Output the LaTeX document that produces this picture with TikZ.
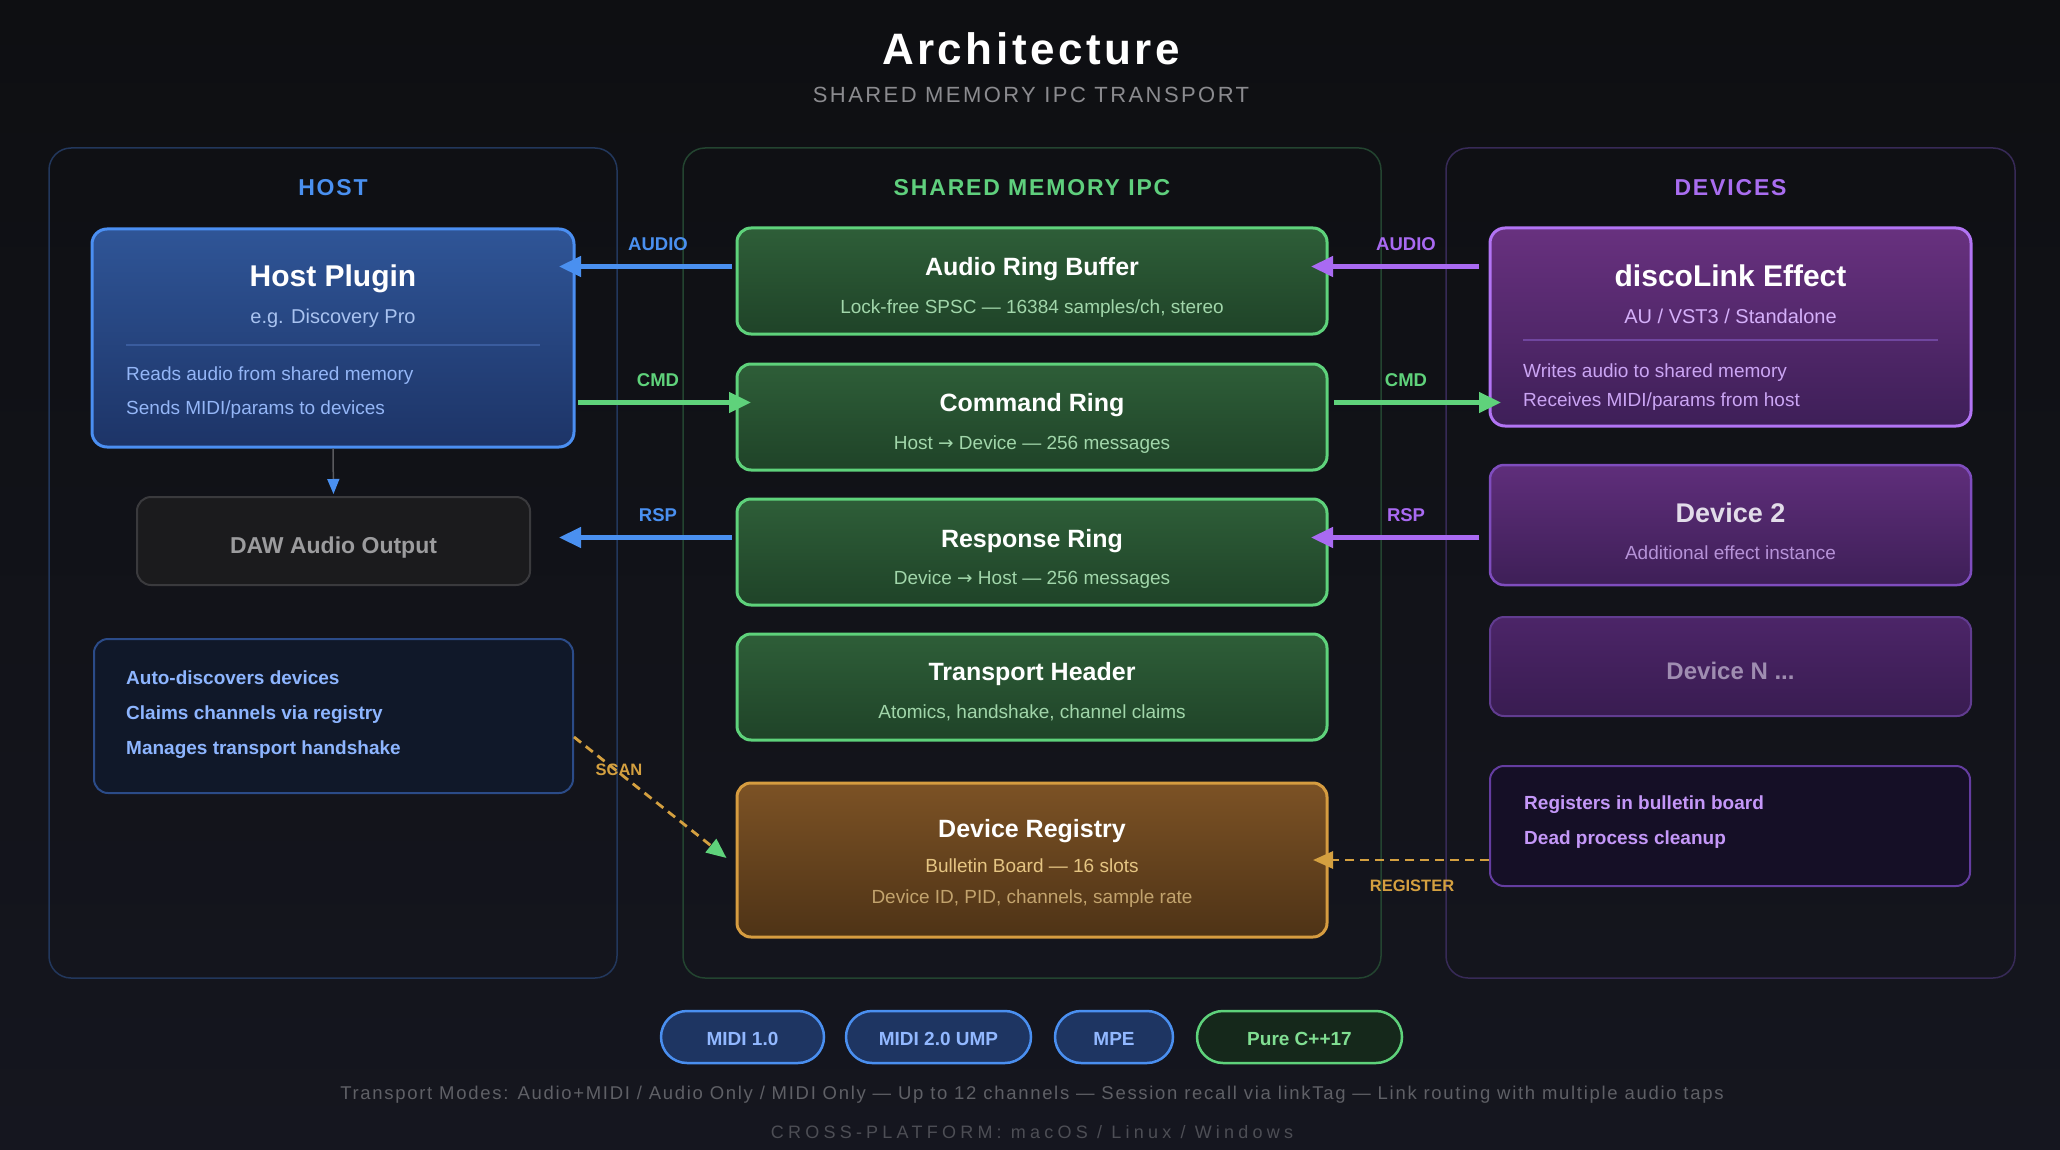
\documentclass[tikz,border=0pt]{standalone}
\usepackage{fontspec}
\setmainfont{Liberation Sans}
\newfontfamily\arrowfont{DejaVu Sans}
\usetikzlibrary{arrows.meta}
\newcommand\fsz[1]{\fontsize{#1pt}{#1pt}\selectfont}
\newcommand\trk[1]{\addfontfeatures{LetterSpace=#1}}
\newcommand\rarr{{\arrowfont\fontsize{18.5pt}{18.5pt}\selectfont →}}
\definecolor{bgtop}{HTML}{0E0F12}
\definecolor{bgbot}{HTML}{15161F}
\definecolor{hpanel}{HTML}{22375C}
\definecolor{spanel}{HTML}{234430}
\definecolor{dpanel}{HTML}{372A57}
\definecolor{hostc}{HTML}{4A90F0}
\definecolor{sharedc}{HTML}{5FCF7D}
\definecolor{devc}{HTML}{A96DF0}
\definecolor{hosttop}{HTML}{2F5597}
\definecolor{hostbot}{HTML}{1D3467}
\definecolor{hostbord}{HTML}{4B8FF2}
\definecolor{hostsub}{HTML}{A9C3F0}
\definecolor{hostsep}{HTML}{3A5C9E}
\definecolor{hostline}{HTML}{94B6F7}
\definecolor{dawfill}{HTML}{1B1B1D}
\definecolor{dawbord}{HTML}{3A3A3D}
\definecolor{dawtext}{HTML}{9C9C9E}
\definecolor{hinfofill}{HTML}{101829}
\definecolor{hinfobord}{HTML}{2B4B88}
\definecolor{hinfotext}{HTML}{8DB5FF}
\definecolor{ringtop}{HTML}{2E5E38}
\definecolor{ringbot}{HTML}{1F4328}
\definecolor{ringbord}{HTML}{5ED27B}
\definecolor{ringsub}{HTML}{A1D6AA}
\definecolor{regtop}{HTML}{7C5225}
\definecolor{regbot}{HTML}{4E3316}
\definecolor{regbord}{HTML}{D69C40}
\definecolor{regsubA}{HTML}{E5C583}
\definecolor{regsubB}{HTML}{C2A36D}
\definecolor{discotop}{HTML}{68317F}
\definecolor{discobot}{HTML}{3E1F58}
\definecolor{discobord}{HTML}{B274F4}
\definecolor{discosub}{HTML}{D5B0FA}
\definecolor{discosep}{HTML}{70469F}
\definecolor{discoline}{HTML}{CBA5F4}
\definecolor{devtwotop}{HTML}{5F2E7B}
\definecolor{devtwobot}{HTML}{3E1F57}
\definecolor{devtwobord}{HTML}{7F4DBE}
\definecolor{devtwotitle}{HTML}{E2DCE9}
\definecolor{devtwosub}{HTML}{B692D8}
\definecolor{devNtop}{HTML}{4C2568}
\definecolor{devNbot}{HTML}{391C51}
\definecolor{devNbord}{HTML}{613C90}
\definecolor{devNtext}{HTML}{9F8DB1}
\definecolor{regsfill}{HTML}{150F26}
\definecolor{regsbord}{HTML}{643DA0}
\definecolor{regstext}{HTML}{C497F8}
\definecolor{ablue}{HTML}{4A90F0}
\definecolor{agreen}{HTML}{5FD27B}
\definecolor{apurple}{HTML}{A96AF2}
\definecolor{aorange}{HTML}{D4A040}
\definecolor{agrey}{HTML}{5A5A5E}
\definecolor{pblfill}{HTML}{1E3562}
\definecolor{pblbord}{HTML}{4A8FF0}
\definecolor{pbltext}{HTML}{92B8FF}
\definecolor{pgrfill}{HTML}{15281B}
\definecolor{pgrbord}{HTML}{5ED27B}
\definecolor{pgrtext}{HTML}{80DE92}
\definecolor{footA}{HTML}{5F6066}
\definecolor{footB}{HTML}{4D4E55}
\definecolor{subt}{HTML}{8B8B8F}
\begin{document}
\begin{tikzpicture}[x=1pt,y=-1pt,
  panel/.style={draw=#1, line width=1.5pt, rounded corners=22pt, inner sep=0},
  box/.style={rounded corners=14pt, inner sep=0},
  tx/.style={anchor=base, inner sep=0},
  txw/.style={anchor=base west, inner sep=0},
  lbl/.style={tx, font=\fsz{23}\bfseries\trk{8}},
  albl/.style={tx, font=\fsz{18.5}\bfseries},
  olbl/.style={tx, font=\fsz{16.5}\bfseries, text=aorange},
  rtitle/.style={tx, font=\fsz{25}\bfseries, text=white},
  rsub/.style={tx, font=\fsz{19}, text=ringsub},
  ring/.style={box, draw=ringbord, line width=3pt, top color=ringtop, bottom color=ringbot, minimum width=590pt, minimum height=106pt},
  fatarrow/.style={line width=4.5pt, -{Triangle[length=22pt,width=20pt]}},
  barrow/.style={fatarrow, draw=ablue, fill=ablue},
  garrow/.style={fatarrow, draw=agreen, fill=agreen},
  parrow/.style={fatarrow, draw=apurple, fill=apurple},
  pill/.style={draw=pblbord, fill=pblfill, line width=2.5pt, rounded corners=26pt, minimum height=52pt, inner sep=0, text height=17.7pt, text depth=0pt, text=pbltext, font=\fsz{19}\bfseries}
]
\useasboundingbox (0,0) rectangle (2060,1150);
\shade[top color=bgtop, bottom color=bgbot] (0,0) rectangle (2060,1150);

% titles
\node[tx, text=white, font=\fsz{44}\bfseries\trk{8}] (title) at (1031,65) {Architecture};
\node[tx, text=subt, font=\fsz{22}\trk{11}] (subtitle) at (1031,103) {SHARED MEMORY IPC TRANSPORT};

% panels
\node[panel=hpanel, minimum width=568pt, minimum height=830pt] (hostpanel) at (333,563) {};
\node[panel=spanel, minimum width=698pt, minimum height=830pt] (sharedpanel) at (1032,563) {};
\node[panel=dpanel, minimum width=569pt, minimum height=830pt] (devpanel) at (1730.5,563) {};
\node[lbl, text=hostc] (hostlbl) at (333,196) {HOST};
\node[lbl, text=sharedc] (sharedlbl) at (1032,196) {SHARED MEMORY IPC};
\node[lbl, text=devc] (devlbl) at (1730.5,196) {DEVICES};

% host side
\node[box, rounded corners=15pt, draw=hostbord, line width=3pt, top color=hosttop, bottom color=hostbot, minimum width=482pt, minimum height=218pt] (host) at (333,338) {};
\node[tx, text=white, font=\fsz{30}\bfseries] (hostt) at (333,287) {Host Plugin};
\node[tx, text=hostsub, font=\fsz{20}] (hosts) at (333,323) {e.g. Discovery Pro};
\draw[hostsep, line width=1.5pt] (126,345) -- (540,345);
\node[txw, text=hostline, font=\fsz{19}] (hostla) at (126,380) {Reads audio from shared memory};
\node[txw, text=hostline, font=\fsz{19}] (hostlb) at (126,414) {Sends MIDI/params to devices};

\node[box, draw=dawbord, line width=2pt, fill=dawfill, minimum width=393pt, minimum height=88pt] (daw) at (333.5,541) {};
\node[tx, text=dawtext, font=\fsz{23}\bfseries] (dawt) at (333.5,553) {DAW Audio Output};

\node[box, draw=hinfobord, line width=2pt, fill=hinfofill, minimum width=479pt, minimum height=154pt] (hinfo) at (333.5,716) {};
\node[txw, text=hinfotext, font=\fsz{19}\bfseries] (hia) at (126,684) {Auto-discovers devices};
\node[txw, text=hinfotext, font=\fsz{19}\bfseries] (hib) at (126,719) {Claims channels via registry};
\node[txw, text=hinfotext, font=\fsz{19}\bfseries] (hic) at (126,754) {Manages transport handshake};

% shared memory
\node[ring] (audio) at (1032,281) {};
\node[rtitle] (audiot) at (1032,276) {Audio Ring Buffer};
\node[rsub] (audios) at (1032,313) {Lock-free SPSC — 16384 samples/ch, stereo};
\node[ring] (cmd) at (1032,417) {};
\node[rtitle] (cmdt) at (1032,411) {Command Ring};
\node[rsub] (cmds) at (1032,449) {Host \rarr{} Device — 256 messages};
\node[ring] (rsp) at (1032,552) {};
\node[rtitle] (rspt) at (1032,547) {Response Ring};
\node[rsub] (rsps) at (1032,584) {Device \rarr{} Host — 256 messages};
\node[ring] (trans) at (1032,687) {};
\node[rtitle] (transt) at (1032,680) {Transport Header};
\node[rsub] (transs) at (1032,718) {Atomics, handshake, channel claims};
\node[box, draw=regbord, line width=3pt, top color=regtop, bottom color=regbot, minimum width=590pt, minimum height=154pt] (registry) at (1032,860) {};
\node[rtitle] (regt) at (1032,837) {Device Registry};
\node[tx, text=regsubA, font=\fsz{19}] (regsa) at (1032,872) {Bulletin Board — 16 slots};
\node[tx, text=regsubB, font=\fsz{19}] (regsb) at (1032,903) {Device ID, PID, channels, sample rate};

% devices
\node[box, rounded corners=15pt, draw=discobord, line width=3pt, top color=discotop, bottom color=discobot, minimum width=481pt, minimum height=198pt] (disco) at (1730.5,327) {};
\node[tx, text=white, font=\fsz{30}\bfseries] (discot) at (1730.5,287) {discoLink Effect};
\node[tx, text=discosub, font=\fsz{20}] (discos) at (1730.5,323) {AU / VST3 / Standalone};
\draw[discosep, line width=1.5pt] (1523,340) -- (1938,340);
\node[txw, text=discoline, font=\fsz{19}] (discola) at (1523,377) {Writes audio to shared memory};
\node[txw, text=discoline, font=\fsz{19}] (discolb) at (1523,406) {Receives MIDI/params from host};

\node[box, draw=devtwobord, line width=2.5pt, top color=devtwotop, bottom color=devtwobot, minimum width=481pt, minimum height=120pt] (dev2) at (1730.5,525) {};
\node[tx, text=devtwotitle, font=\fsz{27}\bfseries] (dev2t) at (1730.5,522) {Device 2};
\node[tx, text=devtwosub, font=\fsz{19}] (dev2s) at (1730.5,559) {Additional effect instance};

\node[box, draw=devNbord, line width=2pt, top color=devNtop, bottom color=devNbot, minimum width=481pt, minimum height=99pt] (devN) at (1730.5,666.5) {};
\node[tx, text=devNtext, font=\fsz{24}\bfseries] (devNt) at (1730.5,679) {Device N ...};

\node[box, draw=regsbord, line width=2pt, fill=regsfill, minimum width=480pt, minimum height=120pt] (regs) at (1730,826) {};
\node[txw, text=regstext, font=\fsz{19}\bfseries] (regsla) at (1524,809) {Registers in bulletin board};
\node[txw, text=regstext, font=\fsz{19}\bfseries] (regslb) at (1524,844) {Dead process cleanup};

% connectors
\coordinate (aL) at ([yshift=-40pt]audio.north west);
\coordinate (cL) at ([yshift=-40pt]cmd.north west);
\coordinate (rL) at ([yshift=-40pt]rsp.north west);
\coordinate (aR) at ([yshift=-40pt]audio.north east);
\coordinate (cR) at ([yshift=-40pt]cmd.north east);
\coordinate (rR) at ([yshift=-40pt]rsp.north east);
\draw[barrow, shorten <=3.5pt, shorten >=-16.5pt] (aL) -- (aL -| host.east);
\draw[garrow, shorten <=2.5pt, shorten >=-15.5pt] (cL -| host.east) -- (cL);
\draw[barrow, shorten <=3.5pt, shorten >=-16.5pt] (rL) -- (rL -| host.east);
\draw[parrow, shorten <=9.5pt, shorten >=-17.5pt] (aR -| disco.west) -- (aR);
\draw[garrow, shorten <=5.5pt, shorten >=-12.5pt] (cR) -- (cR -| disco.west);
\draw[parrow, shorten <=9.5pt, shorten >=-17.5pt] (rR -| dev2.west) -- (rR);
\draw[agrey, line width=1.5pt, shorten >=2pt, -{Triangle[length=15pt,width=12pt,color=ablue]}] (host.south) -- (daw.north);
\draw[aorange, line width=2.8pt, dash pattern=on 9pt off 6pt, shorten >=-15.5pt, -{Triangle[length=20pt,width=17pt]}] (registry.east -| regs.west) -- (registry.east);
\draw[aorange, line width=2.8pt, dash pattern=on 9pt off 6pt, -{Triangle[length=20pt,width=17pt,color=agreen]}] ([yshift=-21pt]hinfo.east) -- ([xshift=-9pt,yshift=2pt]registry.west);

% connector labels
\node[albl, text=ablue] (lAL) at (658,250.5) {AUDIO};
\node[albl, text=agreen] (lCL) at (658,386.5) {CMD};
\node[albl, text=ablue] (lRL) at (658,521.5) {RSP};
\node[albl, text=apurple] (lAR) at (1406,250.5) {AUDIO};
\node[albl, text=agreen] (lCR) at (1406,386.5) {CMD};
\node[albl, text=apurple] (lRR) at (1406,521.5) {RSP};
\node[olbl] (lscan) at (619,775) {SCAN};
\node[olbl] (lreg) at (1412,891) {REGISTER};

% pills
\node[pill, minimum width=163pt] (p1) at (742.5,1037) {MIDI 1.0};
\node[pill, minimum width=185pt] (p2) at (938.5,1037) {MIDI 2.0 UMP};
\node[pill, minimum width=118pt] (p3) at (1114,1037) {MPE};
\node[pill, draw=pgrbord, fill=pgrfill, text=pgrtext, minimum width=205pt] (p4) at (1299.5,1037) {Pure C++17};

% footer
\node[tx, text=footA, font=\fsz{18.5}\trk{9.2}] (footA) at (1032,1099) {Transport Modes: Audio+MIDI / Audio Only / MIDI Only — Up to 12 channels — Session recall via linkTag — Link routing with multiple audio taps};
\node[tx, text=footB, font=\fsz{18}\trk{23.5}] (footB) at (1032,1138.5) {CROSS-PLATFORM: macOS / Linux / Windows};
\end{tikzpicture}
\end{document}
